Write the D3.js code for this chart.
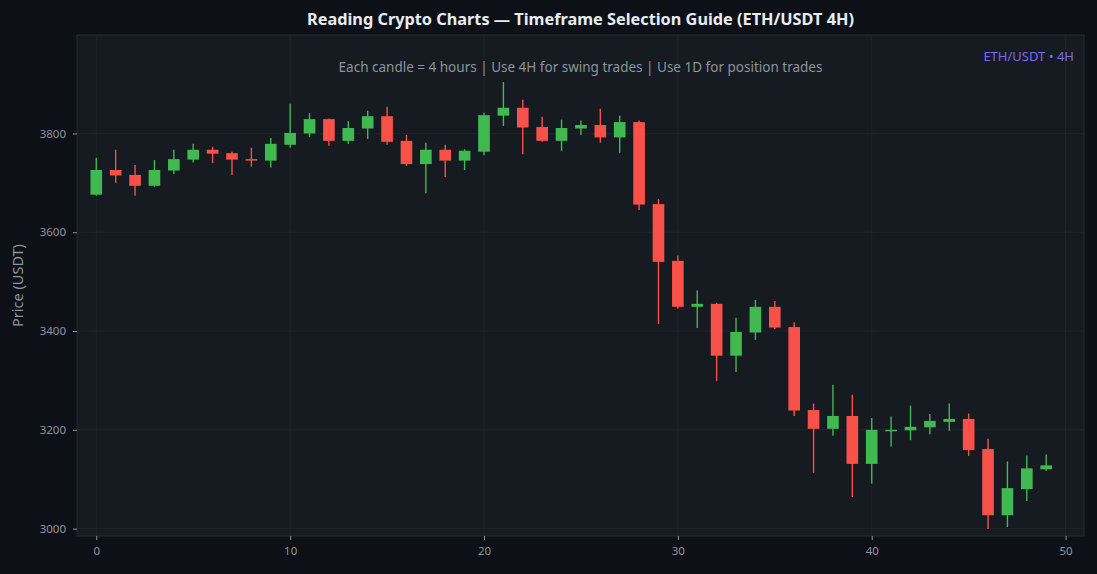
<!DOCTYPE html>
<html>
<head>
<meta charset="utf-8">
<script src="https://cdn.jsdelivr.net/npm/d3@7"></script>
<style>
  html, body { margin: 0; padding: 0; background: #0d1117; }
  svg { display: block; font-family: "Noto Sans", "Open Sans", sans-serif; }
</style>
</head>
<body>
<div id="chart"></div>
<script>
// candle data (index 0..49)
var opens  = [3676, 3726, 3716, 3694, 3725, 3747, 3767, 3760, 3748, 3745,
              3777, 3800, 3829, 3785, 3810, 3835, 3785, 3738, 3767, 3745,
              3763, 3836, 3852, 3813, 3785, 3810, 3817, 3792, 3823, 3657,
              3542, 3449, 3455, 3350, 3397, 3449, 3408, 3240, 3202, 3228,
              3131, 3199, 3199, 3205, 3216, 3222, 3161, 3027, 3080, 3120];
var closes = [3726, 3715, 3694, 3726, 3748, 3767, 3759, 3747, 3745, 3779,
              3801, 3829, 3785, 3811, 3835, 3783, 3738, 3767, 3745, 3765,
              3837, 3852, 3812, 3785, 3811, 3817, 3792, 3823, 3656, 3540,
              3449, 3455, 3350, 3398, 3449, 3407, 3239, 3202, 3228, 3131,
              3200, 3200, 3206, 3218, 3222, 3159, 3027, 3082, 3122, 3128];
var highs  = [3751, 3767, 3736, 3746, 3767, 3779, 3773, 3763, 3771, 3791,
              3860, 3841, 3830, 3825, 3846, 3854, 3797, 3781, 3777, 3768,
              3842, 3904, 3868, 3834, 3828, 3826, 3850, 3836, 3826, 3667,
              3553, 3482, 3457, 3427, 3463, 3461, 3418, 3253, 3291, 3271,
              3224, 3227, 3249, 3232, 3253, 3233, 3182, 3136, 3148, 3150];
var lows   = [3674, 3700, 3674, 3692, 3718, 3741, 3740, 3716, 3733, 3731,
              3771, 3793, 3775, 3779, 3789, 3777, 3734, 3679, 3712, 3726,
              3756, 3815, 3758, 3783, 3765, 3797, 3781, 3761, 3645, 3414,
              3445, 3406, 3299, 3317, 3382, 3404, 3228, 3113, 3188, 3064,
              3091, 3166, 3179, 3191, 3198, 3147, 2999, 3003, 3056, 3117];

var xTicks = [0, 10, 20, 30, 40, 50];
var yTicks = [3000, 3200, 3400, 3600, 3800];

var title = "Reading Crypto Charts \u2014 Timeframe Selection Guide (ETH/USDT 4H)";
var subtitle = "Each candle = 4 hours | Use 4H for swing trades | Use 1D for position trades";
var badge = "ETH/USDT \u2022 4H";

var up = "#3fb950", down = "#f85149";

function drawChart() {
    var w = 1097, h = 574;
    var margin = { top: 35, right: 13, bottom: 38, left: 77 };
    var width = w - margin.left - margin.right;
    var height = h - margin.top - margin.bottom;

    var candles = opens.map((o, i) => ({
        i: i, open: o, close: closes[i], high: highs[i], low: lows[i]
    }));

    var svg = d3.select("#chart")
        .append("svg")
        .attr("width", w)
        .attr("height", h);

    svg.append("rect")
        .attr("width", w).attr("height", h)
        .attr("fill", "#0d1117");

    var g = svg.append("g")
        .attr("transform", `translate(${margin.left},${margin.top})`);

    var xScale = d3.scaleLinear().domain([-0.995, 50.95]).range([0, width]);
    var yScale = d3.scaleLinear().domain([2985, 3999.3]).range([height, 0]);

    // plot background
    g.append("rect")
        .attr("width", width).attr("height", height)
        .attr("fill", "#161b22");

    // grid
    g.selectAll(".gx").data(xTicks).enter().append("line")
        .attr("x1", d => xScale(d)).attr("x2", d => xScale(d))
        .attr("y1", 0).attr("y2", height)
        .attr("stroke", "#21262d").attr("stroke-width", 0.8);
    g.selectAll(".gy").data(yTicks).enter().append("line")
        .attr("x1", 0).attr("x2", width)
        .attr("y1", d => yScale(d)).attr("y2", d => yScale(d))
        .attr("stroke", "#21262d").attr("stroke-width", 0.8);

    // frame
    g.append("rect")
        .attr("width", width).attr("height", height)
        .attr("fill", "none")
        .attr("stroke", "#262b33").attr("stroke-width", 1);

    // axes
    var xAxis = g.append("g")
        .attr("transform", `translate(0,${height})`)
        .call(d3.axisBottom(xScale).tickValues(xTicks).tickSize(4).tickPadding(7).tickFormat(d3.format("d")));
    var yAxis = g.append("g")
        .call(d3.axisLeft(yScale).tickValues(yTicks).tickSize(4).tickPadding(7).tickFormat(d3.format("d")));
    [xAxis, yAxis].forEach(a => {
        a.select(".domain").remove();
        a.selectAll("line").attr("stroke", "#8b949e");
        a.selectAll("text").attr("fill", "#8b949e").style("font-size", "11.5px")
            .style("font-family", "'Noto Sans', sans-serif");
    });

    // wicks
    g.selectAll(".wick").data(candles).enter().append("line")
        .attr("x1", d => xScale(d.i)).attr("x2", d => xScale(d.i))
        .attr("y1", d => yScale(d.high)).attr("y2", d => yScale(d.low))
        .attr("stroke", d => d.close >= d.open ? up : down)
        .attr("stroke-width", 1.4);

    // bodies
    var bw = xScale(0.6) - xScale(0);
    g.selectAll(".body").data(candles).enter().append("rect")
        .attr("x", d => xScale(d.i) - bw / 2)
        .attr("width", bw)
        .attr("y", d => yScale(Math.max(d.open, d.close)))
        .attr("height", d => Math.max(1.5, Math.abs(yScale(d.open) - yScale(d.close))))
        .attr("fill", d => d.close >= d.open ? up : down);

    // texts
    svg.append("text")
        .attr("x", margin.left + width / 2).attr("y", 25)
        .attr("text-anchor", "middle")
        .attr("fill", "#e6edf3")
        .style("font-size", "16.3px").style("font-weight", "bold")
        .text(title);

    g.append("text")
        .attr("x", width / 2).attr("y", 37)
        .attr("text-anchor", "middle")
        .attr("fill", "#8b949e")
        .style("font-size", "13.5px")
        .text(subtitle);

    g.append("text")
        .attr("x", width - 10).attr("y", 26)
        .attr("text-anchor", "end")
        .attr("fill", "#7b68ee")
        .style("font-size", "13px")
        .text(badge);

    svg.append("text")
        .attr("transform", `translate(23,${margin.top + height / 2}) rotate(-90)`)
        .attr("text-anchor", "middle")
        .attr("fill", "#8b949e")
        .style("font-size", "14.5px")
        .text("Price (USDT)");
}

window.onload = drawChart;
</script>
</body>
</html>
